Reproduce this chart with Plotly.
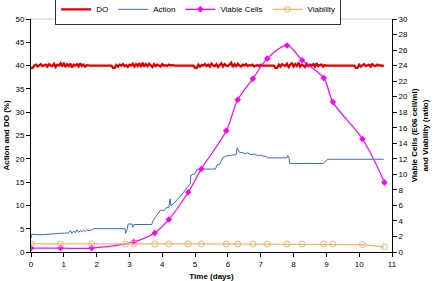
import plotly.graph_objects as go

# ---------------- data ----------------
# DO (%) sampled every 0.05 day starting at day 0
do_start = 0.0
do_step = 0.05
do_values = (
    [39.5, 39.5, 40.0]
    + [40.2, 39.8, 40.1, 40.3, 39.9, 40.0, 40.2, 39.8, 40.3, 40.0, 39.9, 40.4, 39.7, 40.2, 40.0, 40.5, 39.8,
       40.6, 39.7, 40.3, 39.9, 40.4, 39.6, 40.2, 40.0, 40.3, 39.8, 40.5, 39.9, 40.2, 39.8, 40.1, 40.0]
    + [40.0, 40.0, 40.0, 40.0, 40.0, 40.0, 40.0, 40.0, 40.0, 40.0, 40.0, 40.0, 40.0, 40.0]
    + [39.5, 39.5]
    + [40.1, 39.8, 40.2, 40.0, 40.3, 39.9, 40.1, 39.7, 40.2, 40.0, 40.4, 39.8, 40.3, 39.9, 40.5, 39.7, 40.6, 39.8,
       40.3, 39.9, 40.4, 40.0, 39.7, 40.3, 39.9, 40.2, 40.0, 39.8, 40.3, 40.0, 40.1, 39.9, 40.2, 40.0, 40.1, 40.0]
    + [40.0, 40.0, 40.0, 40.0, 40.0, 40.0, 40.0, 40.0, 40.0, 40.0, 40.0, 40.0]
    + [39.5, 39.5]
    + [40.2, 39.8, 40.1, 40.0, 40.3, 39.9, 40.2, 39.8, 40.4, 40.0, 39.9, 40.3, 39.7, 40.2, 40.5, 39.8, 40.3, 40.0,
       39.9, 40.2, 40.6, 39.7, 40.3, 39.9, 40.4, 40.0, 39.8, 40.2, 40.0, 40.3, 39.9, 40.1, 40.0, 40.2, 39.8, 40.0,
       40.1, 39.9, 40.2, 40.0, 40.0, 40.1, 40.0, 40.0]
    + [40.0, 40.0, 40.0]
    + [39.5, 39.5]
    + [40.2, 39.8, 40.3, 40.0, 39.9, 40.4, 39.7, 40.2, 40.5, 39.8, 40.3, 39.9, 40.6, 39.8, 40.2, 40.0, 39.7, 40.4,
       39.9, 40.2, 40.0, 40.3, 39.8, 40.5, 39.9, 40.1, 40.2, 39.8, 40.1, 40.0, 40.0]
    + [40.0, 40.0, 40.0, 40.0, 40.0, 40.0, 40.0, 40.0, 40.0, 40.0, 40.0, 40.0, 40.0, 40.0, 40.0, 40.0]
    + [39.5, 39.5]
    + [40.2, 39.8, 40.1, 40.3, 39.9, 40.0, 40.2, 39.8, 40.3, 40.0, 39.9, 40.2, 40.0, 40.1, 39.9, 40.1]
)

action_time = [0.00, 0.02, 0.30, 0.60, 0.90, 1.15, 1.20, 1.25, 1.30, 1.35, 1.40, 1.45, 1.50, 1.55, 1.60, 1.65,
               1.70, 1.75, 1.85, 1.90, 2.87, 2.88, 2.92, 2.96, 3.08, 3.10, 3.14, 3.68, 3.72, 3.80, 3.90, 3.95,
               4.05, 4.10, 4.20, 4.24, 4.26, 4.35, 4.45, 4.55, 4.65, 4.75, 4.85, 4.87, 5.00, 5.05, 5.20, 5.62,
               5.67, 5.75, 5.85, 5.95, 6.10, 6.25, 6.28, 6.35, 6.45, 6.55, 6.60, 6.70, 6.80, 6.90, 7.00, 7.10,
               7.15, 7.20, 7.80, 7.82, 7.86, 7.88, 8.90, 9.04, 10.75]
action_values = [3.0, 3.8, 3.7, 3.9, 4.0, 4.1, 4.6, 4.0, 4.5, 4.1, 4.8, 4.2, 4.6, 4.3, 4.7, 4.4,
                 4.8, 4.6, 4.7, 5.0, 5.0, 4.0, 4.6, 6.0, 6.0, 5.3, 5.9, 5.9, 6.8, 7.6, 8.4, 9.0,
                 8.9, 9.4, 9.6, 11.4, 10.0, 10.4, 11.2, 11.9, 12.8, 13.8, 14.6, 16.5, 16.8, 17.6, 17.8, 17.8,
                 18.7, 18.8, 20.3, 20.6, 20.8, 20.9, 22.4, 21.4, 21.3, 21.1, 21.3, 20.9, 21.0, 20.7, 20.8, 20.5,
                 20.6, 20.2, 20.2, 20.7, 20.4, 19.0, 19.0, 19.9, 19.9]

cells_time = [0.00, 0.90, 1.85, 3.13, 3.77, 4.20, 4.79, 5.19, 5.95, 6.30, 6.76, 7.20, 7.80, 8.26, 8.92,
              9.20, 10.10, 10.77]
cells_values = [0.5, 0.5, 0.5, 1.3, 2.45, 4.2, 7.7, 10.7, 15.6, 19.6, 22.3, 24.9, 26.6, 24.7, 22.4,
                19.3, 14.55, 8.96]

viab_time = [0.00, 0.90, 1.85, 2.88, 3.13, 3.77, 4.20, 4.79, 5.19, 5.95, 6.30, 6.76, 7.20, 7.80, 8.26,
             8.92, 9.20, 10.10, 10.77]
viab_values = [1.05, 1.03, 1.03, 1.02, 1.03, 1.03, 1.04, 1.04, 1.04, 1.03, 1.03, 1.03, 1.03, 1.04, 1.03,
               1.04, 1.03, 0.95, 0.65]

x_ticks = [0, 1, 2, 3, 4, 5, 6, 7, 8, 9, 10, 11]

# ---------------- figure ----------------
FONT = "Liberation Sans, Arial, sans-serif"
FS = 8

fig = go.Figure()
fig.add_trace(go.Scatter(y=do_values, x0=do_start, dx=do_step, mode="lines", name="DO",
                         line=dict(color="#e00000", width=2.3), yaxis="y"))
fig.add_trace(go.Scatter(x=action_time, y=action_values, mode="lines", name="Action",
                         line=dict(color="#3a6bd0", width=1), yaxis="y"))
fig.add_trace(go.Scatter(x=cells_time, y=cells_values, mode="lines+markers", name="Viable Cells",
                         line=dict(color="#ff00ff", width=1.2, shape="spline", smoothing=1.0),
                         marker=dict(symbol="diamond", size=5, color="#ff00ff"), yaxis="y2"))
fig.add_trace(go.Scatter(x=viab_time, y=viab_values, mode="lines+markers", name="Viability",
                         line=dict(color="#f8b26a", width=1.2),
                         marker=dict(symbol="circle-open", size=6, color="#f8b26a", line=dict(width=1)),
                         yaxis="y2"))

axis_common = dict(showgrid=False, zeroline=False, showline=True, linecolor="black", linewidth=1,
                   ticks="outside", ticklen=4, tickcolor="black", automargin=False,
                   tickfont=dict(family=FONT, size=FS, color="black"))

fig.update_layout(
    width=435, height=281,
    margin=dict(l=31, r=43, t=19, b=29, autoexpand=False),
    paper_bgcolor="white", plot_bgcolor="white",
    font=dict(family=FONT, size=FS, color="black"),
    showlegend=True,
    legend=dict(orientation="h", x=0.463, xanchor="center", yref="paper", y=1.108, yanchor="top",
                bordercolor="#333333", borderwidth=1, bgcolor="white",
                font=dict(family=FONT, size=FS, color="black"),
                itemwidth=30, tracegroupgap=0),
    xaxis=dict(range=[0, 11], tickvals=x_ticks, **axis_common,
               title=dict(text="<b>Time (days)</b>", font=dict(family=FONT, size=FS, color="black"), standoff=6)),
    yaxis=dict(range=[0, 50], dtick=5, **axis_common,
               title=dict(text="<b>Action and DO (%)</b>", font=dict(family=FONT, size=FS, color="black"), standoff=4)),
    yaxis2=dict(range=[0, 30], dtick=2, overlaying="y", side="right", **axis_common,
                title=dict(text="<b>Viable Cells (E06 cell/ml)<br>and Viability (ratio)</b>",
                           font=dict(family=FONT, size=FS, color="black"), standoff=4)),
    shapes=[dict(type="line", xref="paper", yref="paper", x0=0, x1=1, y0=1, y1=1,
                 line=dict(color="#c8c8c8", width=1))],
)

fig.write_html("out.html", config={"displayModeBar": False},
               post_script="document.body.style.margin='0';document.body.style.padding='0';")
